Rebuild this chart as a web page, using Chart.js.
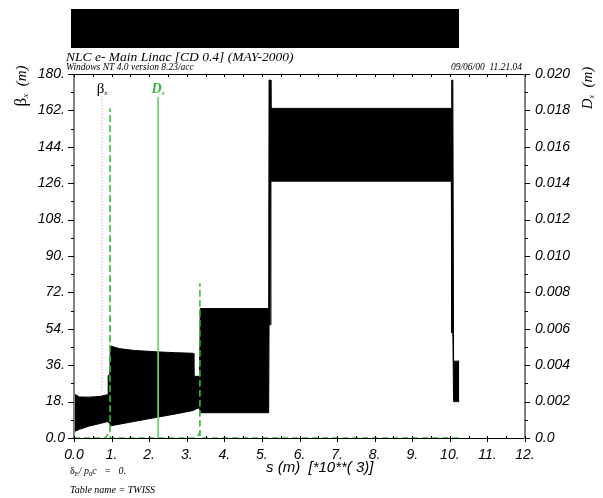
<!DOCTYPE html>
<html>
<head>
<meta charset="utf-8">
<script src="https://cdn.jsdelivr.net/npm/chart.js@4/dist/chart.umd.min.js"></script>
<style>
  html, body { margin: 0; padding: 0; background: #fff; }
  canvas { display: block; }
</style>
</head>
<body>
<canvas id="twiss" width="603" height="498"></canvas>
<script>
// beta_x envelope of the linac (oscillation is too dense to resolve, so upper / lower edges)
const sPos      = [0.00, 0.15, 0.40, 0.70, 0.89, 0.91, 0.91, 0.95, 0.97, 1.20, 1.60, 2.20, 2.70, 3.17, 3.19, 3.34, 3.36, 5.18, 5.19, 5.23, 5.24, 10.04, 10.05, 10.08, 10.10, 10.25]
const betaUpper = [21.8, 20.3, 20.2, 20.6, 21.4, 21.4, 31.0, 31.0, 45.5, 44.2, 43.3, 42.6, 42.2, 41.9, 30.5, 30.5, 64.0, 64.0, 177, 177, 163, 163, 177, 177, 38, 38]
const betaLower = [3.1, 4.3, 5.9, 7.2, 8.1, 8.1, 7.8, 7.4, 6.0, 6.8, 8.2, 10.2, 11.9, 13.6, 14.0, 15.0, 12.5, 12.5, 56, 56, 127, 127, 52, 52, 18, 18]

// dispersion
const dxPos  = [0.00, 0.83, 0.90, 0.955, 0.958, 0.961, 0.97, 3.25, 3.32, 3.347, 3.350, 3.353, 3.36, 10.25]
const dxVals = [0, 0, 0.0002, 0.0003, 0.0181, 0.0002, 0, 0, 0.0002, 0.0003, 0.0085, 0.0002, 0, 0]

// axis ticks
const sTicks = [0, 1, 2, 3, 4, 5, 6, 7, 8, 9, 10, 11, 12]
const sTickLabels = ['0.0', '1.', '2.', '3.', '4.', '5.', '6.', '7.', '8.', '9.', '10.', '11.', '12.']
const betaTicks = [0, 18, 36, 54, 72, 90, 108, 126, 144, 162, 180]
const betaTickLabels = ['0.0', '18.', '36.', '54.', '72.', '90.', '108.', '126.', '144.', '162.', '180.']
const dxTicks = [0, 0.002, 0.004, 0.006, 0.008, 0.010, 0.012, 0.014, 0.016, 0.018, 0.020]
const dxTickLabels = ['0.0', '0.002', '0.004', '0.006', '0.008', '0.010', '0.012', '0.014', '0.016', '0.018', '0.020']

// legend markers (MAD style: label with a line dropping to the curve)
const betaMarkS = [0.745, 0.745]
const betaMarkY = [169, 22.5]
const dxMarkS = [2.24, 2.24]
const dxMarkY = [0.01874, 0]

const GREEN = '#3cb43c'
const tickFont = { family: '"Liberation Sans"', style: 'italic', size: 14 }

function pts(xs, ys) {
  return xs.map((x, i) => ({ x: x, y: ys[i] }))
}

function fixTicks(values) {
  return scale => { scale.ticks = values.map(v => ({ value: v })) }
}

// draw text with a subscript, returns total width
function subText(ctx, x, y, parts, align) {
  let total = 0
  for (let p of parts) { ctx.font = p.font; total += ctx.measureText(p.t).width }
  let cx = align === 'center' ? x - total / 2 : x
  for (let p of parts) {
    ctx.font = p.font
    ctx.fillStyle = p.color || '#000'
    ctx.fillText(p.t, cx, y + (p.dy || 0))
    cx += ctx.measureText(p.t).width
  }
  return total
}

const decor = {
  id: 'decor',
  afterDraw(chart) {
    const ctx = chart.ctx
    const a = chart.chartArea
    const xs = chart.scales.x, yl = chart.scales.y, yr = chart.scales.y2
    ctx.save()

    // lattice layout band
    ctx.fillStyle = '#000'
    ctx.fillRect(71, 9, 388, 39)

    // headings
    ctx.textBaseline = 'alphabetic'
    ctx.textAlign = 'left'
    ctx.fillStyle = '#000'
    ctx.font = 'italic 13.5px "Liberation Serif"'
    ctx.fillText('NLC e- Main Linac [CD 0.4] (MAY-2000)', 66, 61)
    ctx.font = 'italic 9.5px "Liberation Serif"'
    ctx.fillText('Windows NT 4.0 version 8.23/acc', 66, 70)
    ctx.textAlign = 'right'
    ctx.fillText('09/06/00  11.21.04', 522, 70)
    ctx.textAlign = 'left'

    // frame
    ctx.strokeStyle = '#000'
    ctx.lineWidth = 1
    ctx.beginPath()
    ctx.moveTo(a.left, a.top + 0.5); ctx.lineTo(a.right, a.top + 0.5)
    ctx.moveTo(a.left, a.bottom + 0.5); ctx.lineTo(a.right, a.bottom + 0.5)
    ctx.stroke()
    ctx.strokeStyle = '#808080'
    ctx.lineWidth = 2
    ctx.beginPath()
    ctx.moveTo(a.left, a.top); ctx.lineTo(a.left, a.bottom + 1)
    ctx.moveTo(a.right, a.top); ctx.lineTo(a.right, a.bottom + 1)
    ctx.stroke()

    // tick marks
    ctx.strokeStyle = '#000'
    ctx.lineWidth = 1
    ctx.beginPath()
    for (let k = 0; k <= 24; k++) {
      const px = Math.round(xs.getPixelForValue(k / 2)) + 0.5
      const major = k % 2 === 0
      ctx.moveTo(px, a.top); ctx.lineTo(px, a.top + 3)
      ctx.moveTo(px, a.bottom - 2); ctx.lineTo(px, a.bottom + (major ? 4 : 1))
    }
    for (let k = 0; k <= 20; k++) {
      const major = k % 2 === 0
      const py = Math.round(yl.getPixelForValue(k * 9)) + 0.5
      ctx.moveTo(a.left - (major ? 6 : 3), py); ctx.lineTo(a.left, py)
      const pr = Math.round(yr.getPixelForValue(k * 0.001)) + 0.5
      ctx.moveTo(a.right, pr); ctx.lineTo(a.right + (major ? 5 : 3), pr)
    }
    ctx.stroke()

    // axis titles
    ctx.textAlign = 'left'
    ctx.textBaseline = 'middle'
    ctx.save()
    ctx.translate(22, 86)
    ctx.rotate(-Math.PI / 2)
    subText(ctx, 0, 0, [
      { t: 'β', font: '17px "Liberation Serif"' },
      { t: 'x', font: 'italic 9px "Liberation Serif"', dy: 4 },
      { t: '  (m)', font: 'italic 15px "Liberation Serif"' }
    ], 'center')
    ctx.restore()
    ctx.save()
    ctx.translate(588, 88)
    ctx.rotate(-Math.PI / 2)
    subText(ctx, 0, 0, [
      { t: 'D', font: 'italic 15px "Liberation Serif"' },
      { t: 'x', font: 'italic 8px "Liberation Serif"', dy: 4 },
      { t: '  (m)', font: 'italic 15px "Liberation Serif"' }
    ], 'center')
    ctx.restore()

    ctx.textBaseline = 'alphabetic'
    ctx.textAlign = 'left'
    ctx.fillStyle = '#000'
    ctx.font = 'italic 15px "Liberation Sans"'
    ctx.fillText('s (m)  [*10**( 3)]', 266, 472)

    // legend labels
    const ly = yl.getPixelForValue(172) + 3
    subText(ctx, xs.getPixelForValue(betaMarkS[0]), ly, [
      { t: 'β', font: '15px "Liberation Serif"' },
      { t: 'x', font: 'italic 7px "Liberation Serif"', dy: 2 }
    ], 'center')
    subText(ctx, xs.getPixelForValue(dxMarkS[0]), ly, [
      { t: 'D', font: 'italic bold 14px "Liberation Serif"', color: GREEN },
      { t: 'x', font: 'italic bold 7px "Liberation Serif"', dy: 2, color: GREEN }
    ], 'center')

    // notes
    subText(ctx, 70, 474, [
      { t: 'δ', font: '10px "Liberation Serif"' },
      { t: 'E', font: '6.5px "Liberation Serif"', dy: 2 },
      { t: '/ p', font: 'italic 10px "Liberation Serif"' },
      { t: '0', font: '6.5px "Liberation Serif"', dy: 2 },
      { t: 'c   =   0.', font: 'italic 10px "Liberation Serif"' }
    ])
    ctx.font = 'italic 10px "Liberation Serif"'
    ctx.fillStyle = '#000'
    ctx.fillText('Table name = TWISS', 70, 493)

    ctx.restore()
  }
}

new Chart(document.getElementById('twiss'), {
  type: 'line',
  data: {
    datasets: [
      {
        label: 'beta lower',
        data: pts(sPos, betaLower),
        yAxisID: 'y',
        borderColor: '#000',
        borderWidth: 1,
        pointRadius: 0,
        fill: false,
        order: 3
      },
      {
        label: 'beta upper',
        data: pts(sPos, betaUpper),
        yAxisID: 'y',
        borderColor: '#000',
        backgroundColor: '#000',
        borderWidth: 1,
        pointRadius: 0,
        fill: '-1',
        order: 3
      },
      {
        label: 'Dx',
        data: pts(dxPos, dxVals),
        yAxisID: 'y2',
        borderColor: GREEN,
        borderWidth: 1.5,
        borderDash: [6, 4],
        pointRadius: 0,
        fill: false,
        order: 1
      },
      {
        label: 'beta mark',
        data: pts(betaMarkS, betaMarkY),
        yAxisID: 'y',
        borderColor: '#a0a0a0',
        borderWidth: 1,
        borderDash: [1, 2],
        pointRadius: 0,
        fill: false,
        order: 2
      },
      {
        label: 'dx mark',
        data: pts(dxMarkS, dxMarkY),
        yAxisID: 'y2',
        borderColor: '#6fd06f',
        borderWidth: 1,
        pointRadius: 0,
        fill: false,
        order: 2
      }
    ]
  },
  options: {
    responsive: false,
    animation: false,
    devicePixelRatio: 1,
    layout: { padding: { top: 74, left: 0, right: 0, bottom: 0 } },
    plugins: {
      legend: { display: false },
      tooltip: { enabled: false },
      title: { display: false }
    },
    scales: {
      x: {
        type: 'linear',
        position: 'bottom',
        min: 0,
        max: 12,
        grid: { display: false },
        border: { display: false },
        afterBuildTicks: fixTicks(sTicks),
        afterFit: s => { s.height = 60 },
        ticks: {
          autoSkip: false,
          maxRotation: 0,
          padding: 1,
          color: '#000',
          font: tickFont,
          callback: (v, i) => sTickLabels[i]
        }
      },
      y: {
        type: 'linear',
        position: 'left',
        min: 0,
        max: 180,
        grid: { display: false },
        border: { display: false },
        afterBuildTicks: fixTicks(betaTicks),
        afterFit: s => { s.width = 74 },
        ticks: {
          autoSkip: false,
          padding: 1,
          color: '#000',
          font: tickFont,
          callback: (v, i) => betaTickLabels[i]
        }
      },
      y2: {
        type: 'linear',
        position: 'right',
        min: 0,
        max: 0.02,
        grid: { display: false },
        border: { display: false },
        afterBuildTicks: fixTicks(dxTicks),
        afterFit: s => { s.width = 78 },
        ticks: {
          autoSkip: false,
          padding: 2,
          color: '#000',
          font: tickFont,
          callback: (v, i) => dxTickLabels[i]
        }
      }
    }
  },
  plugins: [decor]
})
</script>
</body>
</html>
